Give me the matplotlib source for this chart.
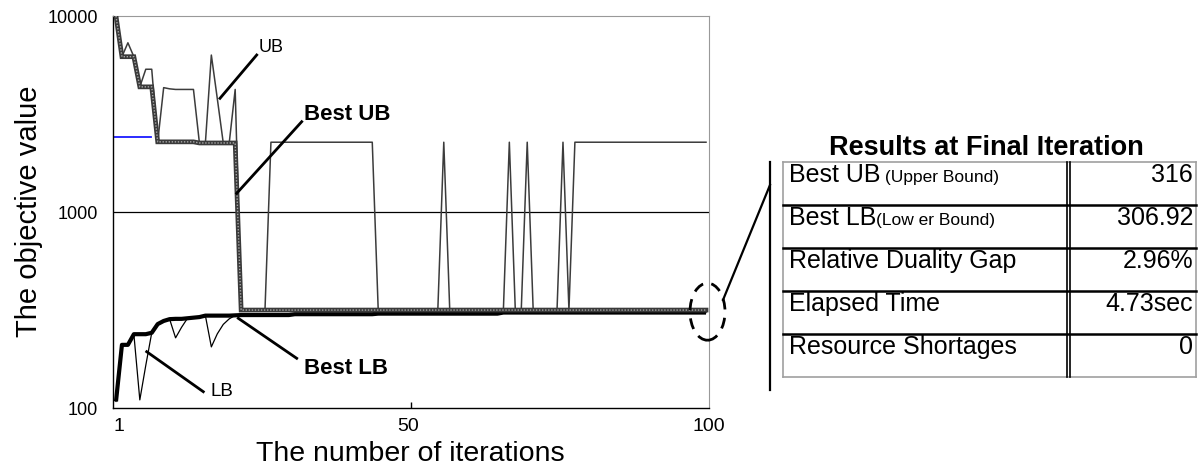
import matplotlib
matplotlib.use("Agg")
import matplotlib.pyplot as plt
from matplotlib.lines import Line2D
from matplotlib.patches import Ellipse
from matplotlib.ticker import NullLocator
import numpy as np

plt.rcParams['font.family'] = ['Liberation Sans', 'DejaVu Sans']

# iteration axis
iters = np.arange(1, 101)

# upper bound found in each iteration
ub = ([10000, 6200, 7300, 6200, 4350, 5350, 5350, 2280, 4310, 4250,
       4220, 4220, 4220, 4220, 2250, 2250, 6320, 3790, 2250, 2250, 4220]
      + [316] * 5 + [2270] * 18 + [316] * 11 + [2270] + [316] * 10
      + [2270] + [316] * 2 + [2270] + [316] * 5 + [2270] + [316] + [2270] * 23)

best_ub = [10000] + [6200] * 3 + [4350] * 3 + [2280] * 7 + [2250] * 7 + [316] * 79

# lower bound in each iteration
lb = ([108, 210, 210, 238, 110, 165, 242, 268, 278, 284,
       228, 258, 287, 289, 291, 296, 205, 239, 267, 285, 297]
      + [298] * 9 + [301] * 14 + [303] * 21 + [306.92] * 35)

best_lb = ([108, 210, 210, 238, 238, 238, 242, 268, 278, 284,
            285, 285, 287, 289, 291, 296, 296, 296, 296, 296, 297]
           + [298] * 9 + [301] * 14 + [303] * 21 + [306.92] * 35)

# short blue segment near the top left
blue_x = [0.75, 6.8]
blue_y = [2415, 2415]

# results table
table_title = "Results at Final Iteration"
row_main = ["Best UB", "Best LB", "Relative Duality Gap", "Elapsed Time", "Resource Shortages"]
row_small = [" (Upper Bound)", "(Low er Bound)", "", "", ""]
row_values = ["316", "306.92", "2.96%", "4.73sec", "0"]

W, H = 1202, 469


def px(x, y):
    return x / W, 1 - y / H


fig = plt.figure(figsize=(W / 100, H / 100), dpi=100)
ax = fig.add_axes([113 / W, 1 - 408 / H, 596 / W, 392 / H])

ax.plot(iters, ub, color='#3c3c3c', lw=1.1, zorder=2)
ax.plot(iters, lb, color='black', lw=0.9, zorder=2)
ax.plot(iters, best_lb, color='black', lw=3.0, zorder=3, solid_capstyle='butt')
ax.plot(iters, best_ub, color='#3a3a3a', lw=3.4, zorder=4, solid_joinstyle='miter')
ax.plot(iters, best_ub, color='#a8a8a8', lw=1.0, ls=(0, (1, 1.2)), zorder=5)
ax.plot(blue_x, blue_y, color='#1a1aff', lw=1.3, zorder=2)

ax.axhline(1000, color='black', lw=0.9, zorder=1)

ax.set_yscale('log')
ax.set_ylim(100, 10000)
ax.set_xlim(0.5, 100.5)
ax.set_yticks([100, 1000, 10000])
ax.set_yticklabels(['100', '1000', '10000'])
ax.yaxis.set_minor_locator(NullLocator())
ax.tick_params(axis='y', length=0, pad=11, labelsize=13)
ax.set_xticks([1.5, 50, 100.5])
ax.set_xticklabels(['1', '50', '100'])
ax.set_xticks([50.5], minor=True)
ax.tick_params(axis='x', which='major', length=0, pad=7, labelsize=14)
ax.tick_params(axis='x', which='minor', direction='in', length=4, width=1, color='black')

for s in ['top', 'right']:
    ax.spines[s].set_color('#999999')
for s in ['left', 'bottom']:
    ax.spines[s].set_color('black')
    ax.spines[s].set_linewidth(1.0)

fig.text(*px(410, 461), "The number of iterations", fontsize=20.5, ha='center', va='baseline')
fig.text(*px(29, 211), "The objective value", fontsize=21, ha='center', va='center', rotation=90)


def leader(x0, y0, x1, y1, lw=2.0, color='black'):
    fig.add_artist(Line2D([x0 / W, x1 / W], [1 - y0 / H, 1 - y1 / H],
                          transform=fig.transFigure, color=color, lw=lw))


# annotations inside the chart
fig.text(*px(271, 47), "UB", fontsize=13, ha='center', va='center')
leader(256.7, 55, 220, 98.3)
fig.text(*px(347, 114), "Best UB", fontsize=16, fontweight='bold', ha='center', va='center')
leader(301.7, 121.7, 236.7, 193.3)
fig.text(*px(346, 369), "Best LB", fontsize=16, fontweight='bold', ha='center', va='center')
leader(296.7, 358.3, 238.3, 318.3)
fig.text(*px(222, 392), "LB", fontsize=13.5, ha='center', va='center')
leader(203.3, 391.7, 146.7, 351.7)

# dashed ellipse at the final iteration and its pointer
ell = Ellipse(px(707.5, 311.7), 35 / W, 57 / H, transform=fig.transFigure,
              fill=False, ls=(0, (4, 3)), lw=2.0, edgecolor='black')
fig.add_artist(ell)
leader(723, 300, 770, 185, lw=1.6)
leader(769.5, 162, 769.5, 390, lw=1.6)

# results table
left, right = 782.7, 1196
top, bottom = 161.7, 376.7
row_h = (bottom - top) / len(row_main)
fig.text(*px(986, 155), table_title, fontsize=19.5, fontweight='bold', ha='center', va='baseline')

leader(left, top, right, top, lw=1.2, color='#a0a0a0')
leader(left, bottom, right, bottom, lw=1.2, color='#a0a0a0')
leader(left, top, left, bottom, lw=1.2, color='#a0a0a0')
leader(right, top, right, bottom, lw=1.2, color='#a0a0a0')
for i in range(1, len(row_main)):
    yy = top + i * row_h
    leader(left, yy, right, yy, lw=1.8)
leader(1066.7, top, 1066.7, bottom, lw=1.2)
leader(1070.3, top, 1070.3, bottom, lw=1.2)

for i, (name, small, val) in enumerate(zip(row_main, row_small, row_values)):
    base = top + i * row_h + 20.5
    t = fig.text(*px(789, base), name, fontsize=18, ha='left', va='baseline')
    if small:
        fig.canvas.draw()
        bb = t.get_window_extent()
        fig.text(bb.x1 / W, 1 - base / H, small, fontsize=12.5, ha='left', va='baseline')
    fig.text(*px(1193, base), val, fontsize=18, ha='right', va='baseline')

fig.savefig("out.png", dpi=100)
